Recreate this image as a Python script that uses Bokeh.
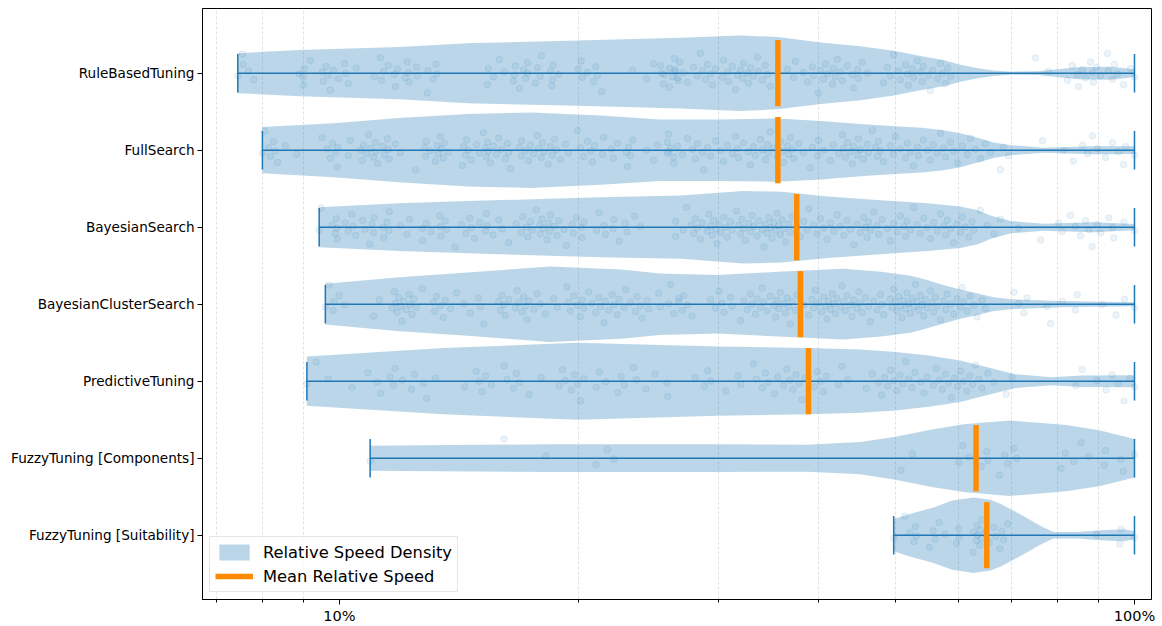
from statistics import NormalDist

from bokeh.embed import file_html
from bokeh.models import CustomJSTickFormatter, FixedTicker, Legend, LegendItem, Range1d
from bokeh.plotting import figure
from bokeh.resources import INLINE

# ---------------------------------------------------------------- data
categories = [
    "RuleBasedTuning",
    "FullSearch",
    "BayesianSearch",
    "BayesianClusterSearch",
    "PredictiveTuning",
    "FuzzyTuning [Components]",
    "FuzzyTuning [Suitability]",
]

# mean relative speed per strategy (percent)
mean_speed = [35.6, 35.6, 37.6, 38.0, 38.9, 63.2, 65.2]

# violin outline per strategy: relative speed (percent) and density half-width
rule_kde_x = [7.45, 8.93, 11.9, 14.5, 19.4, 26.9, 31.9, 35.6, 40.3, 45.2, 49.8, 54.0, 57.5, 60.4, 63.5, 66.5, 69.9, 75.5, 80.0, 84.8, 93.3, 100.0]
rule_kde_w = [0.26, 0.30, 0.34, 0.39, 0.42, 0.46, 0.49, 0.47, 0.40, 0.35, 0.29, 0.22, 0.17, 0.11, 0.065, 0.035, 0.02, 0.025, 0.05, 0.078, 0.084, 0.05]
full_kde_x = [8.0, 9.83, 12.0, 14.5, 17.4, 21.3, 25.3, 30.0, 35.6, 40.3, 45.2, 50.0, 54.0, 57.5, 60.4, 63.5, 66.5, 69.9, 76.8, 88.8, 100.0]
full_kde_w = [0.30, 0.35, 0.42, 0.47, 0.49, 0.45, 0.40, 0.40, 0.41, 0.38, 0.34, 0.31, 0.29, 0.26, 0.22, 0.16, 0.10, 0.065, 0.032, 0.052, 0.05]
bayes_kde_x = [9.43, 11.9, 14.5, 18.4, 21.3, 26.9, 32.2, 36.0, 41.1, 47.9, 54.9, 60.4, 63.5, 66.0, 69.9, 76.8, 88.8, 100.0]
bayes_kde_w = [0.26, 0.31, 0.34, 0.37, 0.39, 0.41, 0.47, 0.46, 0.40, 0.35, 0.31, 0.27, 0.22, 0.15, 0.08, 0.045, 0.065, 0.04]
cluster_kde_x = [9.6, 11.9, 14.5, 18.4, 22.6, 25.3, 29.9, 35.6, 43.05, 48.0, 52.3, 55.0, 57.5, 60.4, 63.5, 66.5, 69.9, 80.7, 100.0]
cluster_kde_w = [0.265, 0.35, 0.41, 0.49, 0.45, 0.40, 0.38, 0.42, 0.46, 0.42, 0.37, 0.31, 0.25, 0.19, 0.14, 0.09, 0.065, 0.04, 0.026]
pred_kde_x = [9.1, 13.5, 19.9, 29.9, 38.9, 45.2, 50.06, 55.4, 60.4, 63.0, 65.9, 70.7, 78.6, 85.8, 100.0]
pred_kde_w = [0.32, 0.43, 0.50, 0.45, 0.43, 0.41, 0.38, 0.33, 0.27, 0.22, 0.17, 0.09, 0.052, 0.074, 0.078]
comp_kde_x = [10.93, 18.3, 30.0, 38.8, 45.2, 50.06, 55.4, 60.95, 69.6, 82.1, 90.6, 100.0]
comp_kde_w = [0.163, 0.18, 0.18, 0.175, 0.21, 0.28, 0.37, 0.44, 0.49, 0.43, 0.36, 0.25]
suit_kde_x = [49.8, 52.3, 55.9, 59.0, 62.75, 65.9, 67.8, 70.7, 73.3, 76.2, 79.1, 84.8, 90.6, 96.9, 100.0]
suit_kde_w = [0.21, 0.28, 0.36, 0.45, 0.49, 0.46, 0.41, 0.31, 0.22, 0.12, 0.043, 0.043, 0.065, 0.078, 0.052]

# individual measurements (relative speed, percent)
rule_pts = [7.45, 7.55, 7.69, 7.80, 7.57, 8.90, 9.01, 9.03, 9.0, 9.19, 9.51, 9.54, 9.62, 9.68, 9.74, 9.83, 9.97,
            10.15, 10.18, 10.26, 10.50, 11.07, 11.26, 11.36, 11.29, 11.52, 11.72, 11.76, 11.83, 12.10, 12.17, 12.21,
            12.24, 12.50, 12.53, 12.90, 12.93, 13.12, 13.23, 13.27, 15.35, 15.39, 15.62, 15.89, 16.12, 16.55, 16.65,
            16.60, 16.84, 17.04, 17.14, 17.24, 17.25, 17.64, 17.74, 17.89, 17.94, 18.42, 18.53, 18.58, 18.86, 18.5,
            19.98, 20.21, 20.15, 20.51, 20.87, 21.00, 21.12, 21.36, 23.37, 24.33, 24.83, 25.41, 25.56, 26.01, 26.24,
            26.39, 26.47, 26.70, 25.34, 25.6, 26.0, 26.4, 26.62, 26.78, 27.08, 27.40, 27.88, 28.20, 28.45, 28.62,
            28.87, 29.04, 29.29, 29.46, 29.72, 30.33, 30.42, 30.77, 30.86, 31.21, 31.67, 31.49, 31.95, 32.14, 32.23,
            32.60, 32.69, 32.88, 33.17, 33.56, 33.65, 34.05, 34.34, 34.54, 34.84, 36.60, 37.24, 37.46, 38.33, 38.78,
            39.35, 39.46, 40.04, 40.27, 40.62, 40.86, 41.10, 41.69, 41.81, 42.06, 42.30, 42.67, 42.92, 43.54, 44.17,
            44.30, 44.82, 44.95, 45.47, 46.14, 48.33, 48.89, 49.32, 49.75, 50.48, 50.77, 51.52, 51.81, 51.96, 52.56,
            52.72, 53.33, 53.79, 54.10, 54.26, 55.05, 55.37, 55.70, 56.52, 57.02, 57.35, 57.85, 58.19, 58.69, 75.08,
            77.95, 82.35, 83.55, 84.78, 85.03, 86.02, 86.77, 88.04, 88.55, 88.81, 89.58, 90.62, 92.48, 92.75, 93.83,
            94.37, 95.20, 96.87, 98.85, 100.0]
full_pts = [8.00, 8.05, 8.14, 8.19, 8.26, 8.31, 8.36, 8.55, 8.83, 9.51, 9.65, 9.74, 9.80, 9.89, 9.94, 9.95, 10.26,
            10.32, 10.63, 10.69, 10.72, 10.82, 10.88, 10.94, 11.04, 11.10, 11.11, 11.17, 11.33, 11.39, 11.49, 11.52,
            11.55, 11.76, 11.93, 12.46, 12.79, 12.83, 12.86, 13.01, 13.20, 13.27, 13.31, 13.40, 13.43, 13.51, 13.55,
            13.71, 14.28, 14.32, 14.41, 14.45, 14.53, 14.65, 14.87, 15.00, 15.17, 15.26, 15.30, 15.35, 15.39, 15.48,
            15.62, 15.76, 15.85, 15.99, 16.17, 16.27, 16.32, 16.41, 16.84, 16.94, 16.95, 17.14, 17.29, 17.39, 17.54,
            17.74, 17.79, 17.94, 18.00, 18.10, 18.31, 18.42, 18.53, 18.64, 18.75, 18.97, 19.24, 19.41, 19.92, 20.09,
            20.27, 20.51, 20.69, 20.81, 20.93, 21.42, 21.49, 21.98, 22.11, 22.37, 22.96, 23.03, 23.10, 23.23, 23.37,
            24.33, 24.83, 25.12, 25.86, 25.93, 26.09, 26.32, 25.87, 25.94, 26.33, 26.62, 27.01, 27.40, 27.80, 28.04,
            28.20, 28.62, 28.70, 29.04, 29.29, 29.72, 30.15, 30.42, 30.77, 31.21, 31.49, 31.67, 31.76, 32.23, 32.69,
            32.88, 33.17, 33.36, 33.85, 34.05, 34.34, 34.54, 34.64, 34.84, 35.14, 35.55, 35.86, 36.07, 36.17, 36.60,
            36.70, 36.92, 37.13, 37.24, 37.78, 38.33, 39.12, 39.35, 39.92, 40.04, 40.62, 41.45, 41.81, 42.43, 42.92,
            43.05, 43.30, 43.54, 43.92, 44.17, 44.30, 44.82, 44.95, 45.21, 45.61, 46.14, 46.27, 46.81, 47.22, 47.50,
            47.63, 47.91, 48.33, 49.32, 49.75, 50.04, 50.77, 51.52, 51.81, 52.26, 52.72, 53.33, 53.48, 54.26, 54.89,
            55.37, 55.85, 56.52, 57.02, 57.52, 57.85, 58.69, 59.20, 59.89, 60.75, 61.64, 62.18, 63.09, 64.01, 64.95,
            65.90, 67.82, 68.42, 69.42, 76.61, 81.41, 83.80, 86.02, 87.28, 88.55, 89.84, 91.94, 93.83, 95.48, 96.87,
            97.44, 100.0]
bayes_pts = [9.43, 9.48, 9.79, 9.88, 9.91, 9.93, 9.94, 10.17, 10.26, 10.36, 10.40, 10.48, 10.70, 10.77, 10.91, 10.99,
             11.04, 11.05, 11.35, 11.37, 11.48, 11.54, 11.56, 11.93, 12.16, 12.25, 12.72, 12.73, 12.86, 13.04, 13.37,
             13.40, 13.42, 13.59, 13.63, 13.98, 14.24, 14.43, 14.59, 14.65, 14.78, 15.01, 15.26, 15.30, 15.33, 15.60,
             15.86, 16.01, 16.33, 16.68, 16.94, 17.00, 17.19, 17.26, 17.39, 17.47, 17.69, 17.86, 17.89, 17.98, 18.06,
             18.24, 18.33, 18.37, 18.42, 18.64, 18.78, 18.88, 19.16, 19.30, 19.62, 19.68, 19.87, 20.15, 20.19, 20.29,
             21.05, 21.20, 21.51, 21.61, 22.13, 22.09, 22.48, 22.89, 23.00, 23.51, 23.91, 26.47, 26.47, 27.07, 27.33,
             27.70, 27.91, 28.04, 28.18, 28.45, 28.59, 29.01, 29.15, 29.29, 29.43, 29.57, 29.72, 29.86, 30.00, 30.15,
             30.44, 30.59, 30.74, 31.03, 31.18, 31.58, 31.79, 31.95, 32.10, 32.26, 32.41, 32.72, 32.88, 33.04, 33.20,
             33.53, 33.69, 34.02, 34.18, 34.34, 34.51, 34.68, 34.84, 35.01, 35.18, 35.35, 35.52, 35.69, 35.86, 36.03,
             36.21, 36.39, 36.74, 36.92, 37.10, 37.64, 38.00, 38.37, 38.74, 38.93, 39.49, 39.87, 40.27, 40.66, 41.05,
             41.45, 41.85, 42.26, 42.67, 43.08, 43.50, 43.92, 44.35, 44.78, 45.21, 45.65, 45.87, 46.09, 46.31, 46.54,
             46.99, 47.45, 47.68, 48.14, 48.87, 49.32, 49.79, 50.29, 50.77, 51.26, 51.52, 51.77, 52.26, 52.77, 53.28,
             53.79, 54.31, 54.84, 55.37, 55.91, 56.46, 57.02, 57.57, 57.85, 58.13, 58.69, 59.25, 59.82, 60.40, 60.70,
             61.28, 61.88, 62.48, 62.78, 64.01, 65.28, 66.57, 67.82, 71.52, 76.17, 80.31, 81.09, 83.07, 84.29, 85.52,
             86.77, 87.61, 88.47, 89.78, 90.62, 92.83, 93.75, 94.19, 96.96, 100.0]
cluster_pts = [9.60, 9.70, 9.84, 9.82, 9.99, 10.15, 11.04, 11.22, 11.65, 11.72, 11.76, 11.82, 11.87, 11.93, 11.99,
               12.05, 12.14, 12.23, 12.28, 12.34, 12.40, 12.49, 12.71, 13.13, 13.17, 13.25, 13.40, 13.51, 13.59, 13.79,
               14.03, 14.34, 14.61, 14.96, 15.04, 15.19, 15.86, 15.94, 16.01, 16.09, 16.17, 16.33, 16.65, 16.73, 16.81,
               16.97, 17.05, 17.14, 17.22, 17.31, 17.56, 17.73, 17.89, 18.15, 18.60, 18.79, 19.33, 19.43, 19.52, 19.71,
               19.90, 20.09, 20.19, 20.29, 20.58, 20.78, 21.00, 21.20, 21.30, 21.51, 21.61, 21.82, 22.04, 22.15, 22.36,
               22.47, 22.80, 22.91, 23.23, 23.57, 23.68, 23.91, 24.02, 24.37, 24.49, 25.20, 25.95, 26.34, 26.72, 25.34,
               26.09, 26.72, 26.98, 27.11, 27.37, 27.77, 29.29, 29.72, 30.00, 30.29, 30.44, 31.03, 31.18, 31.95, 32.26,
               32.56, 32.88, 33.04, 33.36, 33.53, 33.85, 34.02, 34.18, 34.51, 34.84, 35.18, 35.35, 35.52, 35.69, 35.86,
               36.21, 36.39, 36.56, 36.74, 36.92, 37.10, 37.46, 37.64, 38.37, 38.93, 39.30, 39.49, 39.68, 40.07, 40.46,
               40.66, 40.86, 41.05, 41.25, 41.45, 41.65, 41.85, 42.06, 42.26, 42.67, 42.88, 43.08, 43.30, 43.50, 43.92,
               44.14, 44.35, 44.78, 45.00, 45.21, 45.43, 45.87, 46.31, 46.54, 46.99, 47.45, 47.91, 48.14, 48.37, 49.32,
               49.55, 49.79, 50.04, 50.29, 50.53, 50.77, 51.02, 51.26, 51.52, 51.77, 52.01, 52.26, 52.51, 52.77, 53.02,
               53.28, 53.53, 53.79, 54.05, 54.31, 54.57, 54.84, 55.37, 55.64, 55.91, 56.18, 56.46, 57.02, 57.57, 57.85,
               58.13, 58.69, 59.25, 59.82, 60.40, 60.70, 60.99, 61.58, 62.18, 62.78, 63.39, 64.32, 64.95, 70.49, 71.52,
               72.56, 73.26, 77.56, 78.40, 81.09, 84.29, 84.70, 91.14, 94.79, 97.15, 100.0]
pred_pts = [9.10, 9.35, 9.68, 10.37, 10.86, 11.16, 11.27, 11.58, 11.69, 11.75, 12.00, 12.32, 12.43, 12.76, 12.87, 13.21,
            14.37, 14.86, 14.99, 15.12, 15.26, 15.53, 16.11, 16.25, 16.55, 16.69, 16.85, 17.31, 17.93, 18.90, 19.07,
            19.23, 19.58, 19.75, 19.93, 20.10, 20.29, 21.04, 21.23, 21.62, 22.40, 22.61, 22.81, 23.43, 23.64, 24.29,
            24.95, 25.83, 25.87, 28.02, 28.78, 29.04, 29.30, 30.62, 31.72, 32.00, 33.16, 33.45, 34.04, 34.34, 34.64,
            35.26, 35.57, 36.20, 36.53, 36.85, 37.18, 37.51, 37.84, 38.18, 38.52, 39.55, 39.91, 40.26, 40.62, 40.98,
            42.48, 42.86, 43.62, 45.99, 46.81, 47.64, 48.06, 48.50, 48.92, 49.35, 49.79, 50.22, 50.67, 51.11, 51.56,
            52.03, 52.49, 52.95, 53.89, 54.37, 54.84, 55.82, 56.31, 56.81, 57.31, 57.82, 58.33, 58.85, 59.37, 59.90,
            60.43, 60.96, 61.50, 62.04, 62.59, 63.14, 63.70, 64.27, 65.40, 66.57, 68.96, 70.18, 84.38, 85.90, 89.74,
            92.12, 93.73, 95.33, 97.01, 98.66, 100.0]
comp_pts = [10.93, 16.10, 18.17, 21.03, 21.72, 22.14, 50.85, 52.57, 60.11, 60.84, 61.95, 64.19, 65.19, 65.38, 67.65,
            68.67, 69.20, 70.44, 71.09, 80.86, 81.84, 83.94, 85.62, 87.61, 91.66, 91.95, 96.03, 96.75, 100.0]
suit_pts = [49.79, 51.40, 52.16, 52.77, 53.02, 53.18, 55.21, 55.80, 56.18, 56.78, 57.72, 59.71, 60.11, 60.18, 62.67,
            62.78, 63.27, 63.40, 63.45, 63.88, 64.01, 64.20, 64.32, 64.95, 65.66, 66.57, 66.90, 67.72, 68.11, 68.44,
            69.26, 89.58, 95.83, 96.22, 100.0]

kde_x = [rule_kde_x, full_kde_x, bayes_kde_x, cluster_kde_x, pred_kde_x, comp_kde_x, suit_kde_x]
kde_w = [rule_kde_w, full_kde_w, bayes_kde_w, cluster_kde_w, pred_kde_w, comp_kde_w, suit_kde_w]
points = [rule_pts, full_pts, bayes_pts, cluster_pts, pred_pts, comp_pts, suit_pts]

# ---------------------------------------------------------------- styling
BLUE = "#1f77b4"
ORANGE = "#ff8c00"
FONT = "DejaVu Sans"

n = len(categories)
positions = [n - 1 - i for i in range(n)]  # first strategy at the top

p = figure(width=1162, height=626, x_axis_type="log",
           x_range=Range1d(6.726, 105.05), y_range=Range1d(-0.835, 6.84),
           output_backend="svg", toolbar_location=None,
           min_border_left=202, min_border_right=11, min_border_top=8, min_border_bottom=25)
p.background_fill_color = "white"
p.border_fill_color = "white"
p.outline_line_color = "black"
p.outline_line_width = 1
p.outline_line_alpha = 1

# violin bodies
vx, vy = [], []
for pos, xs, ws in zip(positions, kde_x, kde_w):
    vx.append(list(xs) + list(xs[::-1]))
    vy.append([pos + w for w in ws] + [pos - w for w in ws[::-1]])
violins = p.patches(vx, vy, fill_color=BLUE, fill_alpha=0.3, line_color=None)

# jittered individual runs
jit = NormalDist(0.0, 0.11)
px_all, py_all = [], []
for pos, pts in zip(positions, points):
    for k, v in enumerate(pts):
        u = (0.37 + k * 0.6180339887) % 1.0
        u = min(max(u, 0.01), 0.99)
        px_all.append(v)
        py_all.append(pos + jit.inv_cdf(u))
p.scatter(px_all, py_all, size=6.5, fill_color=BLUE, fill_alpha=0.08,
          line_color=BLUE, line_alpha=0.1, line_width=1)

# range bars: centre line plus min / max caps
mins = [min(pts) for pts in points]
maxs = [max(pts) for pts in points]
p.segment(x0=mins, x1=maxs, y0=positions, y1=positions, line_color=BLUE, line_width=1.5)
cap = 0.25
p.segment(x0=mins, x1=mins, y0=[q - cap for q in positions], y1=[q + cap for q in positions],
          line_color=BLUE, line_width=1.5)
p.segment(x0=maxs, x1=maxs, y0=[q - cap for q in positions], y1=[q + cap for q in positions],
          line_color=BLUE, line_width=1.5)

# mean markers
half = 0.43
means = p.segment(x0=mean_speed, x1=mean_speed,
                  y0=[q - half for q in positions], y1=[q + half for q in positions],
                  line_color=ORANGE, line_width=5.5)

# ---------------------------------------------------------------- axes
xticker = FixedTicker(ticks=[10, 100], minor_ticks=[7, 8, 9, 20, 30, 40, 50, 60, 70, 80, 90])
p.xaxis.ticker = xticker
p.xaxis.formatter = CustomJSTickFormatter(code="return Math.round(tick) + '%';")
p.xgrid.ticker = xticker
p.xgrid.grid_line_color = None
p.xgrid.minor_grid_line_color = "#b0b0b0"
p.xgrid.minor_grid_line_alpha = 0.45
p.xgrid.minor_grid_line_dash = "3 2"
p.xgrid.minor_grid_line_width = 0.8
p.ygrid.grid_line_color = None

p.yaxis.ticker = FixedTicker(ticks=positions)
p.yaxis.formatter = CustomJSTickFormatter(args=dict(names=categories),
                                          code="return names[names.length - 1 - Math.round(tick)];")

for ax in (p.xaxis[0], p.yaxis[0]):
    ax.axis_line_color = "black"
    ax.major_tick_line_color = "black"
    ax.major_tick_in = 0
    ax.major_tick_out = 5
    ax.minor_tick_in = 0
    ax.minor_tick_out = 3
    ax.major_label_text_font = FONT
    ax.major_label_text_color = "black"
    ax.major_label_standoff = 3
p.xaxis.major_label_text_font_size = "14.5px"
p.yaxis.major_label_text_font_size = "13.6px"
p.xaxis.minor_tick_line_color = "black"
p.yaxis.minor_tick_line_color = None

# ---------------------------------------------------------------- legend
legend = Legend(items=[LegendItem(label="Relative Speed Density", renderers=[violins]),
                       LegendItem(label="Mean Relative Speed", renderers=[means])],
                location="bottom_left")
legend.label_text_font = FONT
legend.label_text_font_size = "16.3px"
legend.label_text_color = "black"
legend.glyph_width = 38
legend.glyph_height = 20
legend.label_height = 20
legend.spacing = 4
legend.padding = 5
legend.margin = 7
legend.label_standoff = 10
legend.border_line_color = "#cccccc"
legend.background_fill_alpha = 0.8
p.add_layout(legend)

open("out.html", "w").write(file_html(p, INLINE))
